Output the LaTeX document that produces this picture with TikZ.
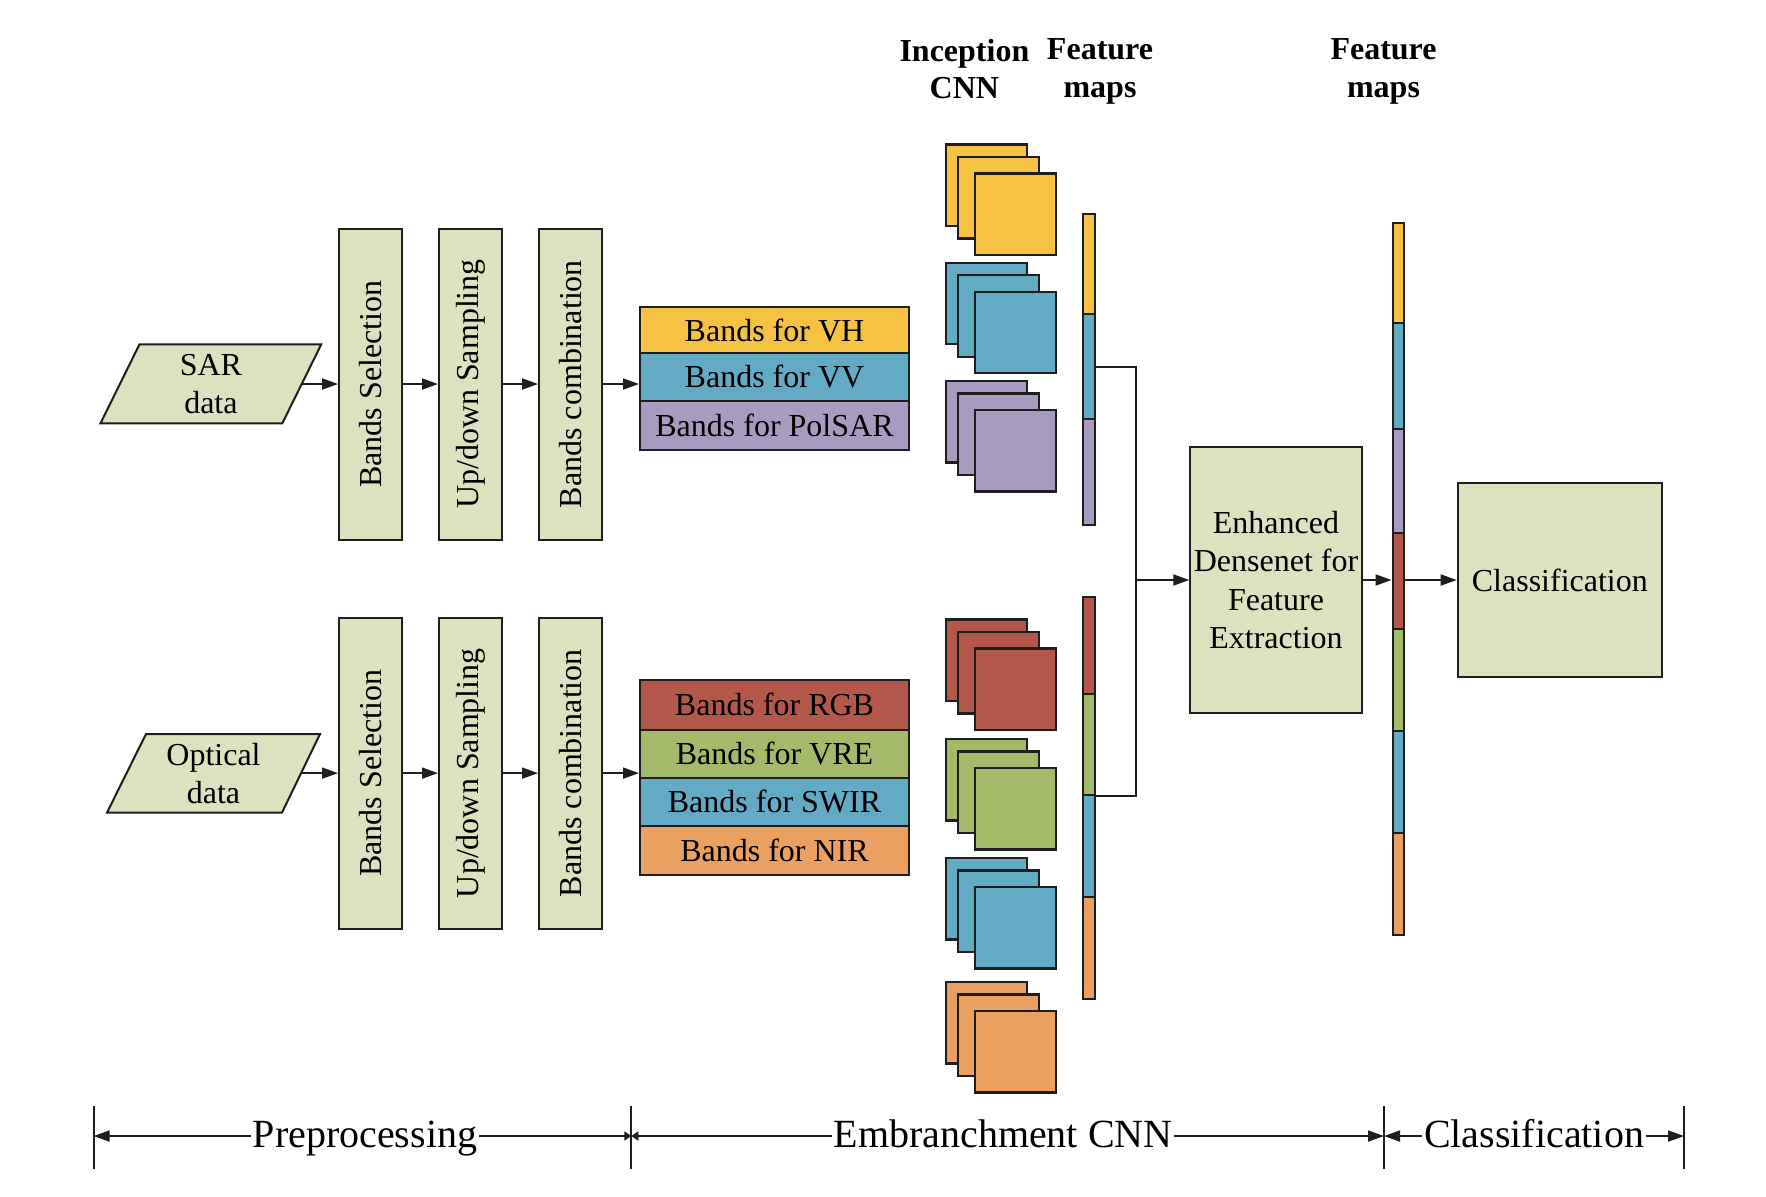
\documentclass[tikz,border=0pt]{standalone}
\usepackage{fontspec}
\setmainfont{Liberation Serif}
\usetikzlibrary{arrows.meta}
\definecolor{pale}{RGB}{219,226,192}
\definecolor{cY}{RGB}{245,194,66}
\definecolor{cB}{RGB}{99,170,196}
\definecolor{cP}{RGB}{168,155,192}
\definecolor{cR}{RGB}{180,87,75}
\definecolor{cG}{RGB}{164,186,106}
\definecolor{cO}{RGB}{233,160,96}
\definecolor{ink}{RGB}{30,30,30}
\begin{document}
\begin{tikzpicture}[x=0.5pt,y=-0.5pt,line join=miter,
  txt/.style={font=\fontsize{16}{19.2}\selectfont},
  box/.style={txt,draw=ink,fill=pale,line width=1pt,inner sep=0pt,align=center},
  paradraw/.style={draw=ink,fill=pale,line width=1pt},
  paratext/.style={txt,align=center,inner sep=0pt},
  tall/.style={box,rotate=90,minimum width=155.5pt,minimum height=31.5pt},
  band/.style={txt,draw=ink,line width=1pt,inner sep=0pt,minimum width=134.5pt},
  fm/.style={draw=ink,line width=1.2pt,minimum width=40.5pt,minimum height=40.75pt,inner sep=0pt},
  seg/.style={draw=ink,line width=1pt,inner sep=0pt},
  conn/.style={draw=ink,line width=0.9pt},
  arr/.style={conn,-{Triangle[length=8pt,width=5.5pt]}},
  hdr/.style={font=\bfseries\fontsize{16}{18.65}\selectfont,align=center,inner sep=0pt,anchor=north},
  lab/.style={font=\fontsize{20}{24}\selectfont,fill=white,inner xsep=1pt,inner ysep=2pt,anchor=base}]
\useasboundingbox (0,0) rectangle (1766,1196);

% headers
\node[hdr] (h1) at (964.4,38.4) {Inception\\CNN};
\node[hdr] (h2) at (1100,38.4) {Feature\\maps};
\node[hdr] (h3) at (1383.5,38.4) {Feature\\maps};

% SAR branch
\path[paradraw] (139.5,344.3) -- (321.3,344.3) -- (282.3,423.3) -- (100.5,423.3) -- cycle;
\node[paratext] (sar) at (210.9,383.8) {SAR\\data};
\coordinate (sarR) at (301.8,384);
\node[tall] (bs1) at (370.5,384) {Bands Selection};
\node[tall] (ud1) at (470.5,384) {Up/down Sampling};
\node[tall] (bc1) at (570.5,384) {Bands combination};
\node[band,fill=cY,minimum height=23pt] (vh) at (774.5,330) {Bands for VH};
\node[band,fill=cB,minimum height=23.85pt] (vv) at (774.5,376.85) {Bands for VV};
\node[band,fill=cP,minimum height=24.65pt] (pol) at (774.5,425.35) {Bands for PolSAR};

% Optical branch
\path[paradraw] (146,734) -- (320,734) -- (282,812.6) -- (107,812.6) -- cycle;
\node[paratext] (opt) at (213.5,773.3) {Optical\\data};
\coordinate (optR) at (301,773.1);
\node[tall] (bs2) at (370.5,773.1) {Bands Selection};
\node[tall] (ud2) at (470.5,773.1) {Up/down Sampling};
\node[tall] (bc2) at (570.5,773.1) {Bands combination};
\node[band,fill=cR,minimum height=24.85pt] (rgb) at (774.5,704.85) {Bands for RGB};
\node[band,fill=cG,minimum height=23.95pt] (vre) at (774.5,753.65) {Bands for VRE};
\node[band,fill=cB,minimum height=24pt] (swir) at (774.5,801.6) {Bands for SWIR};
\node[band,fill=cO,minimum height=24.55pt] (nir) at (774.5,850.15) {Bands for NIR};

% Inception CNN stacks
\foreach \n/\y/\c in {1/143.5/cY,2/261.7/cB,3/380/cP,4/618.5/cR,5/738/cG,6/857/cB,7/981/cO}{
  \node[fm,fill=\c] (k\n-a) at (986.5,\y+41.75) {};
  \node[fm,fill=\c] (k\n-b) at (998.5,\y+54.25) {};
  \node[fm,fill=\c] (k\n-c) at (1015.5,\y+70.75) {};
}

% feature map bar 1
\node[seg,fill=cY,minimum width=6pt,minimum height=50pt] (fu1) at (1088.5,264) {};
\node[seg,fill=cB,minimum width=6pt,minimum height=52.65pt] (fu2) at (1088.5,366.65) {};
\node[seg,fill=cP,minimum width=6pt,minimum height=52.85pt] (fu3) at (1088.5,472.15) {};
\node[seg,fill=cR,minimum width=6pt,minimum height=48.3pt] (fl1) at (1088.5,645.3) {};
\node[seg,fill=cG,minimum width=6pt,minimum height=50.7pt] (fl2) at (1088.5,744.3) {};
\node[seg,fill=cB,minimum width=6pt,minimum height=50.85pt] (fl3) at (1088.5,845.85) {};
\node[seg,fill=cO,minimum width=6pt,minimum height=51.15pt] (fl4) at (1088.5,947.85) {};

% densenet + bar 2 + classification
\node[box,minimum width=85.7pt,minimum height=133.15pt] (enh) at (1276,580) {Enhanced\\Densenet for\\Feature\\Extraction};
\node[seg,fill=cY,minimum width=5.75pt,minimum height=50pt] (g1) at (1398.25,273) {};
\node[seg,fill=cB,minimum width=5.75pt,minimum height=52.75pt] (g2) at (1398.25,375.75) {};
\node[seg,fill=cP,minimum width=5.75pt,minimum height=52.4pt] (g3) at (1398.25,480.9) {};
\node[seg,fill=cR,minimum width=5.75pt,minimum height=47.85pt] (g4) at (1398.25,581.15) {};
\node[seg,fill=cG,minimum width=5.75pt,minimum height=51pt] (g5) at (1398.25,680) {};
\node[seg,fill=cB,minimum width=5.75pt,minimum height=50.8pt] (g6) at (1398.25,781.8) {};
\node[seg,fill=cO,minimum width=5.75pt,minimum height=51.2pt] (g7) at (1398.25,883.8) {};
\node[box,minimum width=102.15pt,minimum height=97.2pt] (cls) at (1559.85,580) {Classification};

% connectors
\draw[arr] (sarR) -- (bs1.north);
\draw[arr] (bs1.south) -- (ud1.north);
\draw[arr] (ud1.south) -- (bc1.north);
\draw[arr] (bc1.south) -- (bc1.south -| vv.west);
\draw[arr] (optR) -- (bs2.north);
\draw[arr] (bs2.south) -- (ud2.north);
\draw[arr] (ud2.south) -- (bc2.north);
\draw[arr] (bc2.south) -- (bc2.south -| swir.west);

\coordinate (jn) at (1136,580);
\draw[conn] (fu2.east) -| (jn) |- (fl2.south east);
\draw[arr] (jn) -- (enh.west);
\draw[arr] (enh.east) -- (enh.east -| g4.west);
\draw[arr] (cls.west -| g4.east) -- (cls.west);

% bottom stage bar
\coordinate (t0) at (93.6,1136);
\coordinate (t1) at (631.3,1136);
\coordinate (t2) at (1384,1136);
\coordinate (t3) at (1684,1136);
\foreach \t in {t0,t1,t2,t3}{
  \draw[conn] ([yshift=15pt]\t) -- ([yshift=-16.5pt]\t);
}
\draw[conn,{Triangle[length=8pt,width=5.5pt]}-{Triangle[length=3.5pt,width=4.5pt]}] (t0) -- (t1);
\draw[conn,{Triangle[length=3.5pt,width=4.5pt]}-{Triangle[length=8pt,width=5.5pt]}] (t1) -- (t2);
\draw[conn,{Triangle[length=8pt,width=5.5pt]}-{Triangle[length=8pt,width=5.5pt]}] (t2) -- (t3);
\node[lab] (pre) at (365,1147.8) {Preprocessing};
\node[lab] (emb) at (1003,1147.8) {Embranchment CNN};
\node[lab] (clb) at (1534,1147.8) {Classification};
\end{tikzpicture}
\end{document}
